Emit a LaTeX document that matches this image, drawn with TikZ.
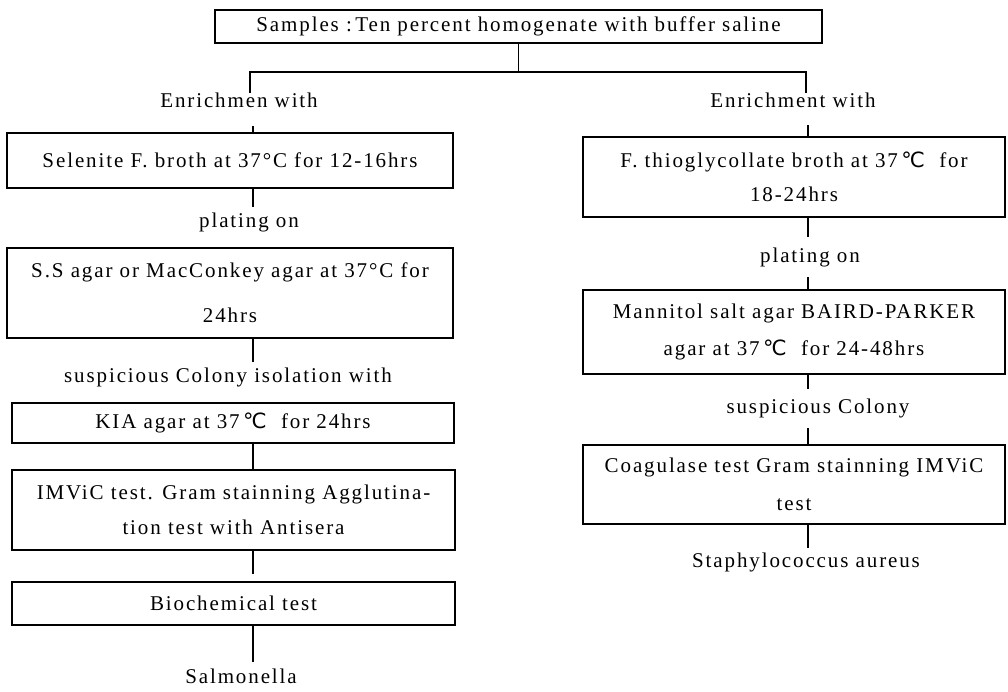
\documentclass[tikz,border=0pt]{standalone}
\usepackage{fontspec}
\setmainfont{Liberation Serif}[LetterSpace=9]
\newfontfamily\degfont{DejaVu Sans}
\newcommand{\degC}{{\degfont ℃}}
\usepackage{tikz}
\usetikzlibrary{positioning}

\begin{document}
\begin{tikzpicture}[
  x=1pt, y=-1pt,
  box/.style={rectangle, draw, line width=1.6pt, inner sep=0pt, align=center,
              font=\fontsize{21}{25}\selectfont},
  lbl/.style={inner sep=0pt, text height=14pt, text depth=4pt,
              font=\fontsize{21}{25}\selectfont},
  conn/.style={line width=1.6pt}
]
  \useasboundingbox (0,0) rectangle (1008,691);

  % Top — sample preparation
  \node[box, minimum width=607pt, minimum height=33pt] (samples) at (518.5,26.5)
    {Samples :\,Ten percent homogenate with buffer saline};
  \coordinate (busL) at (250,72);
  \coordinate (busR) at (806,72);
  \coordinate (colL) at (253,0);
  \coordinate (colR) at (808,0);

  % Left column — Salmonella
  \node[lbl] (enrL) at (239,102) {Enrichmen with};
  \node[box, minimum width=446pt, minimum height=55pt] (selenite) at (230,160.5)
    {Selenite F. broth at 37°C for 12-16hrs};
  \node[lbl] (platL) at (249,222) {plating on};
  \node[box, minimum width=446pt, minimum height=90pt] (ssagar) at (230,293)
    {S.S agar or MacConkey agar at 37°C for\\[20pt]24hrs};
  \node[lbl] (suspL) at (228,377) {suspicious Colony isolation with};
  \node[box, minimum width=442pt, minimum height=40pt] (kia) at (233,423)
    {KIA agar at 37\,\degC\ \ for 24hrs};
  \node[box, minimum width=443pt, minimum height=80pt] (imvic) at (233.5,510)
    {IMViC test. Gram stainning Agglutina-\\[10pt]tion test with Antisera};
  \node[box, minimum width=443pt, minimum height=43pt] (biochem) at (233.5,603.5)
    {Biochemical test};
  \node[lbl] (salm) at (241,678) {Salmonella};

  % Right column — Staphylococcus
  \node[lbl] (enrR) at (793,102) {Enrichment with};
  \node[box, minimum width=422pt, minimum height=80pt] (thio) at (794,177)
    {F. thioglycollate broth at 37\,\degC\ \ for\\[9pt]18-24hrs};
  \node[lbl] (platR) at (810,257) {plating on};
  \node[box, minimum width=422pt, minimum height=84pt] (mannitol) at (794,332)
    {Mannitol salt agar BAIRD-PARKER\\[12pt]agar at 37\,\degC\ \ for 24-48hrs};
  \node[lbl] (suspR) at (818,408) {suspicious Colony};
  \node[box, minimum width=422pt, minimum height=79pt] (coag) at (794,484.5)
    {Coagulase test Gram stainning IMViC\\[13pt]test};
  \node[lbl] (staph) at (806,562) {Staphylococcus aureus};

  % Branching
  \draw[conn] (samples.south) -- (samples.south |- busL);
  \draw[conn] (enrL.north -| busL) -- (busL) -- (busR) -- (enrR.north -| busR);

  % Left links
  \draw[conn, shorten <=15pt] (enrL.south -| colL) -- (selenite.north -| colL);
  \draw[conn, shorten >=6pt] (selenite.south -| colL) -- (platL.north -| colL);
  \draw[conn, shorten >=6pt] (ssagar.south -| colL) -- (suspL.north -| colL);
  \draw[conn] (kia.south -| colL) -- (imvic.north -| colL);
  \draw[conn, shorten >=7pt] (imvic.south -| colL) -- (biochem.north -| colL);
  \draw[conn, shorten >=7pt] (biochem.south -| colL) -- (salm.north -| colL);

  % Right links
  \draw[conn, shorten <=14pt] (enrR.south -| colR) -- (thio.north -| colR);
  \draw[conn, shorten >=11pt] (thio.south -| colR) -- (platR.north -| colR);
  \draw[conn, shorten <=11pt] (platR.south -| colR) -- (mannitol.north -| colR);
  \draw[conn, shorten >=10pt] (mannitol.south -| colR) -- (suspR.north -| colR);
  \draw[conn, shorten <=11pt] (suspR.south -| colR) -- (coag.north -| colR);
  \draw[conn, shorten >=5pt] (coag.south -| colR) -- (staph.north -| colR);
\end{tikzpicture}
\end{document}
